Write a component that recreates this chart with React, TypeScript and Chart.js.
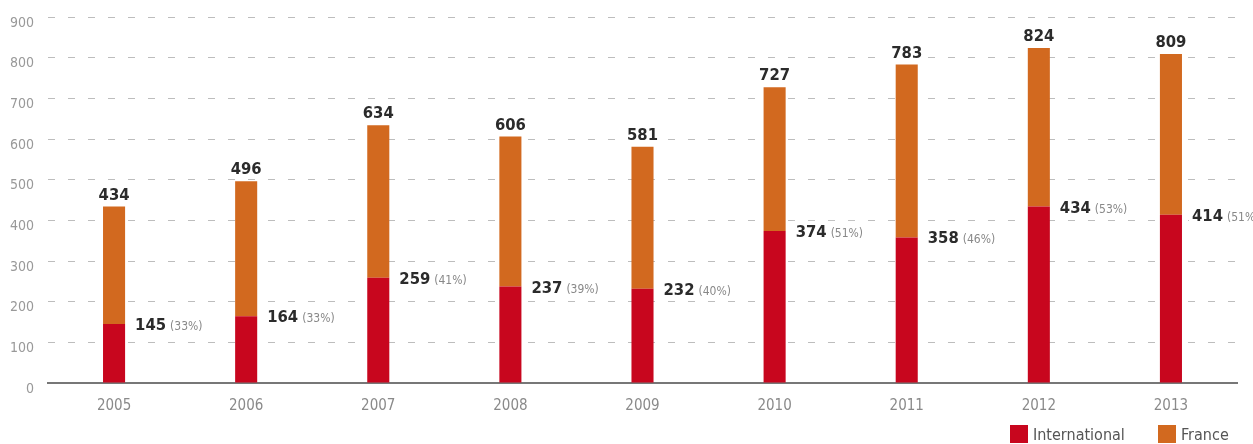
import React, { useEffect, useRef } from "react";
import { Chart, registerables } from "chart.js";

Chart.register(...registerables);

const years = ["2005", "2006", "2007", "2008", "2009", "2010", "2011", "2012", "2013"];
const international = [145, 164, 259, 237, 232, 374, 358, 434, 414];
const france = [289, 332, 375, 369, 349, 353, 425, 390, 395];
const totals = [434, 496, 634, 606, 581, 727, 783, 824, 809];
const intlShare = ["33%", "33%", "41%", "39%", "40%", "51%", "46%", "53%", "51%"];
const yTicks = [0, 100, 200, 300, 400, 500, 600, 700, 800, 900];

const RED = "#C8061E";
const ORANGE = "#D2691F";
const FONT = "'DejaVu Sans Condensed', 'DejaVu Sans', sans-serif";

const labelPlugin = {
  id: "valueLabels",
  afterDatasetsDraw(chart: any) {
    const ctx = chart.ctx;
    const m0 = chart.getDatasetMeta(0);
    const m1 = chart.getDatasetMeta(1);
    ctx.save();
    // totals above bars
    m1.data.forEach((bar: any, i: number) => {
      const txt = String(totals[i]);
      ctx.font = `bold 16.5px ${FONT}`;
      const w = ctx.measureText(txt).width;
      const base = bar.y - 7;
      ctx.fillStyle = "#fff";
      ctx.fillRect(bar.x - w / 2 - 5, base - 15, w + 10, 17);
      ctx.fillStyle = "#2b2b2b";
      ctx.textAlign = "center";
      ctx.textBaseline = "alphabetic";
      ctx.fillText(txt, bar.x, base);
    });
    // international values beside red segment
    m0.data.forEach((bar: any, i: number) => {
      const x = bar.x + bar.width / 2 + 10;
      const y = bar.y;
      const num = String(international[i]);
      ctx.font = `bold 16.5px ${FONT}`;
      const wn = ctx.measureText(num).width;
      ctx.font = `12px ${FONT}`;
      const pct = `(${intlShare[i]})`;
      const wp = ctx.measureText(pct).width;
      ctx.fillStyle = "#fff";
      ctx.fillRect(x - 3, y - 10, wn + wp + 10, 20);
      ctx.textAlign = "left";
      ctx.textBaseline = "alphabetic";
      ctx.font = `bold 16.5px ${FONT}`;
      ctx.fillStyle = "#2b2b2b";
      ctx.fillText(num, x, y + 6);
      ctx.font = `12px ${FONT}`;
      ctx.fillStyle = "#888";
      ctx.fillText(pct, x + wn + 4, y + 6);
    });
    ctx.restore();
  },
};

const legendPlugin = {
  id: "customLegend",
  afterDraw(chart: any) {
    const ctx = chart.ctx;
    ctx.save();
    ctx.font = `16px ${FONT}`;
    ctx.textBaseline = "middle";
    ctx.textAlign = "left";
    const items = chart.data.datasets.map((d: any) => ({ label: d.label, color: d.backgroundColor }));
    const positions = [1010, 1158];
    items.forEach((it: any, i: number) => {
      const x = positions[i];
      ctx.fillStyle = it.color;
      ctx.fillRect(x, 425, 18, 18);
      ctx.fillStyle = "#555";
      ctx.fillText(it.label, x + 23, 436);
    });
    ctx.restore();
  },
};

export default function App() {
  const ref = useRef<HTMLCanvasElement>(null);
  useEffect(() => {
    if (!ref.current) return;
    const chart = new Chart(ref.current, {
      type: "bar",
      data: {
        labels: years,
        datasets: [
          { label: "International", data: international, backgroundColor: RED, barPercentage: 0.167, categoryPercentage: 1 },
          { label: "France", data: france, backgroundColor: ORANGE, barPercentage: 0.167, categoryPercentage: 1 },
        ],
      },
      options: {
        responsive: false,
        animation: false,
        layout: { padding: { top: 17, right: 16, left: 0, bottom: 0 } },
        plugins: { legend: { display: false }, tooltip: { enabled: false } },
        scales: {
          x: {
            stacked: true,
            grid: { display: false, drawTicks: false },
            border: { display: true, color: "#777", width: 2 },
            ticks: { color: "#8a8a8a", font: { family: FONT, size: 15 }, padding: 14 },
            afterFit: (s: any) => { s.height = 61; },
          },
          y: {
            stacked: true,
            min: 0,
            max: 900,
            afterBuildTicks: (s: any) => { s.ticks = yTicks.map((v) => ({ value: v })); },
            grid: { color: "#bdbdbd", lineWidth: 1, drawTicks: false },
            border: { display: false, dash: [7, 13] },
            ticks: { color: "#999", font: { family: FONT, size: 14 }, padding: 14, labelOffset: 6 },
            afterFit: (s: any) => { s.width = 48; s.paddingTop = 0; s.paddingBottom = 0; },
          },
        },
      },
      plugins: [labelPlugin, legendPlugin],
    });
    return () => chart.destroy();
  }, []);
  return (
    <div style={{ position: "fixed", left: 0, top: 0, width: 1253, height: 444, background: "#fff" }}>
      <canvas ref={ref} width={1253} height={444} style={{ display: "block" }} />
    </div>
  );
}
